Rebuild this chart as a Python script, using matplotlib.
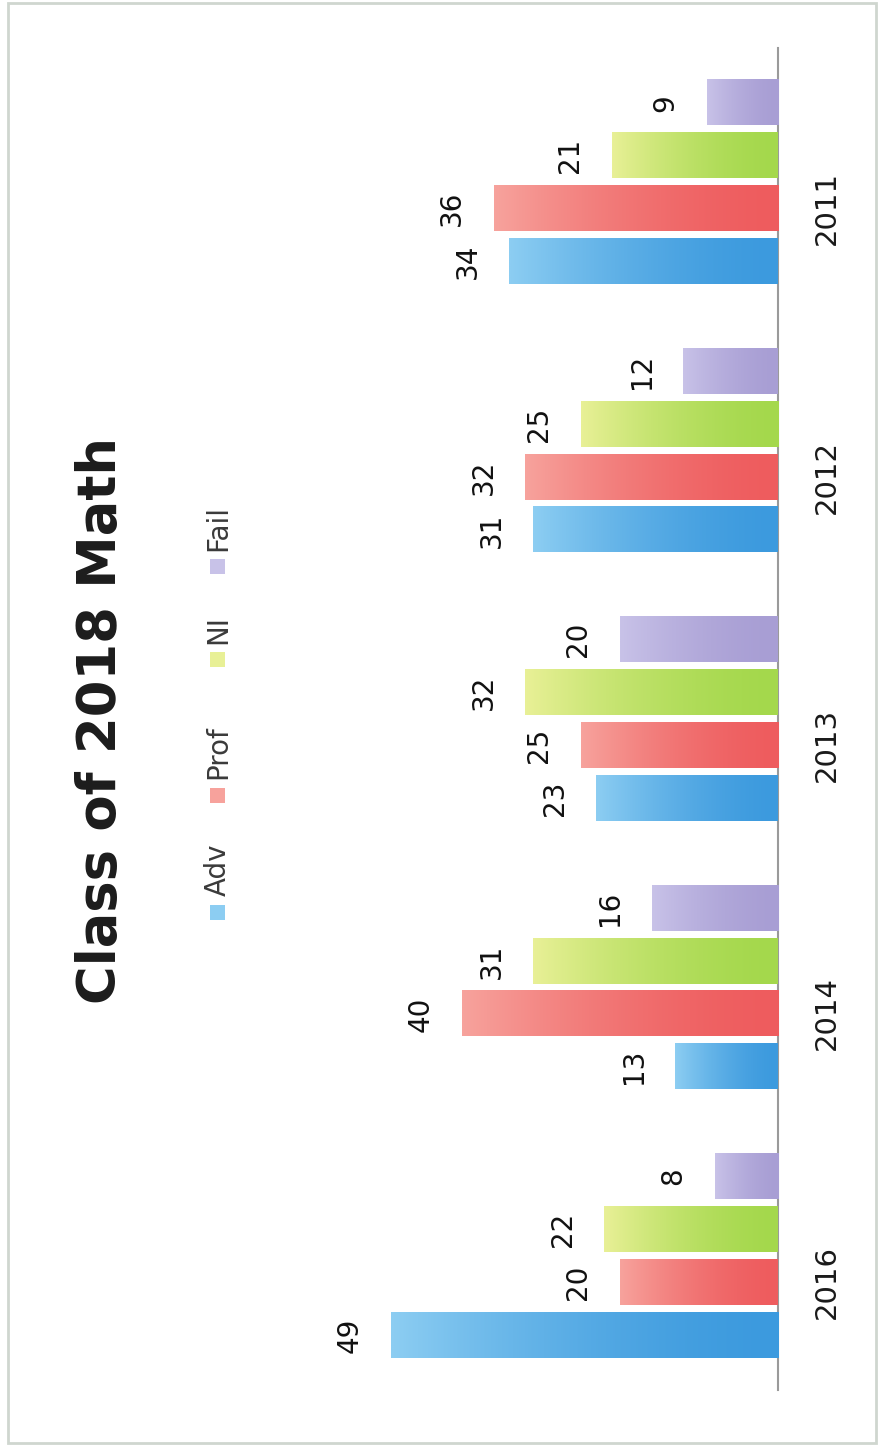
import numpy as np
import matplotlib
matplotlib.use("Agg")
import matplotlib.pyplot as plt
from matplotlib.colors import to_rgb
from matplotlib.patches import Rectangle

plt.rcParams['font.family'] = ['DejaVu Sans']

# data
years = ['2016', '2014', '2013', '2012', '2011']
series = ['Adv', 'Prof', 'NI', 'Fail']
adv = [49, 13, 23, 31, 34]
prof = [20, 40, 25, 32, 36]
ni = [22, 31, 32, 25, 21]
fail = [8, 16, 20, 12, 9]

# (tip colour, base colour) for each series
tips = ['#8ccdf2', '#f7a29c', '#e8f096', '#c8c2e8']
bases = ['#3c9ade', '#ee5c5e', '#a4d84c', '#a89ed4']

fig = plt.figure(figsize=(8.8, 14.55), dpi=100)
W, H = 880, 1455

# axes placed in pixel terms: value baseline on the right, bars grow leftwards
ax_left, ax_right = 300, 778
ax_top, ax_bot = 48, 1390
ax = fig.add_axes([ax_left / W, (H - ax_bot) / H,
                   (ax_right - ax_left) / W, (ax_bot - ax_top) / H])

px_per_unit = 7.9
xmax = (ax_right - ax_left) / px_per_unit

bar_h = 0.168
step = 0.197
y = np.arange(len(years))


def gradient_bar(rect, c_tip, c_base):
    x0, y0 = rect.get_x(), rect.get_y()
    w, h = rect.get_width(), rect.get_height()
    t = np.linspace(0, 1, 64)[None, :, None] ** 1.6
    img = (1 - t) * np.array(to_rgb(c_base)) + t * np.array(to_rgb(c_tip))
    ax.imshow(img, extent=(x0, x0 + w, y0, y0 + h), aspect='auto',
              interpolation='bilinear', zorder=3)


for k, vals in enumerate([adv, prof, ni, fail]):
    pos = y + (k - 1.5) * step
    bars = ax.barh(pos, vals, height=bar_h, color=bases[k], linewidth=0, zorder=2)
    for rect, v, p in zip(bars, vals, pos):
        gradient_bar(rect, tips[k], bases[k])
        ax.annotate(str(v), xy=(v, p), xytext=(-30, 0), textcoords='offset points',
                    rotation=90, ha='center', va='center', fontsize=20,
                    color='#111111', zorder=4)

ax.set_xlim(xmax, 0)
ax.set_ylim(-0.5, len(years) - 0.5)

for s in ['left', 'top', 'bottom']:
    ax.spines[s].set_visible(False)
ax.spines['right'].set_color('#9a9a9a')
ax.spines['right'].set_linewidth(1.5)
ax.set_xticks([])
ax.yaxis.tick_right()
ax.set_yticks(y)
ax.set_yticklabels(years, rotation=90, fontsize=21, color='#1a1a1a')
ax.tick_params(axis='y', length=0, pad=25)
ax.patch.set_alpha(0)

# title
fig.text(101 / W, 1 - 720 / H, 'Class of 2018 Math', rotation=90,
         ha='center', va='center', fontsize=38, fontweight='bold', color='#1c1c1c')

# legend, drawn rotated alongside the title
leg_x = 217
leg_sq = [912, 795, 660, 567]
sq = 15
for k, name in enumerate(series):
    cy = leg_sq[k]
    fig.patches.append(Rectangle(((leg_x - sq / 2) / W, 1 - (cy + sq / 2) / H),
                                 sq / W, sq / H, transform=fig.transFigure,
                                 facecolor=tips[k], edgecolor='none'))
    fig.text((leg_x + 1) / W, 1 - (cy - 16) / H, name, rotation=90, ha='center',
             va='bottom', fontsize=20, color='#3a3a3a')

# outer frame
fig.patches.append(Rectangle((8 / W, 12 / H), 868 / W, 1440 / H,
                             transform=fig.transFigure, fill=False,
                             edgecolor='#cfd6cf', linewidth=2))

fig.savefig('out.png', dpi=100)
